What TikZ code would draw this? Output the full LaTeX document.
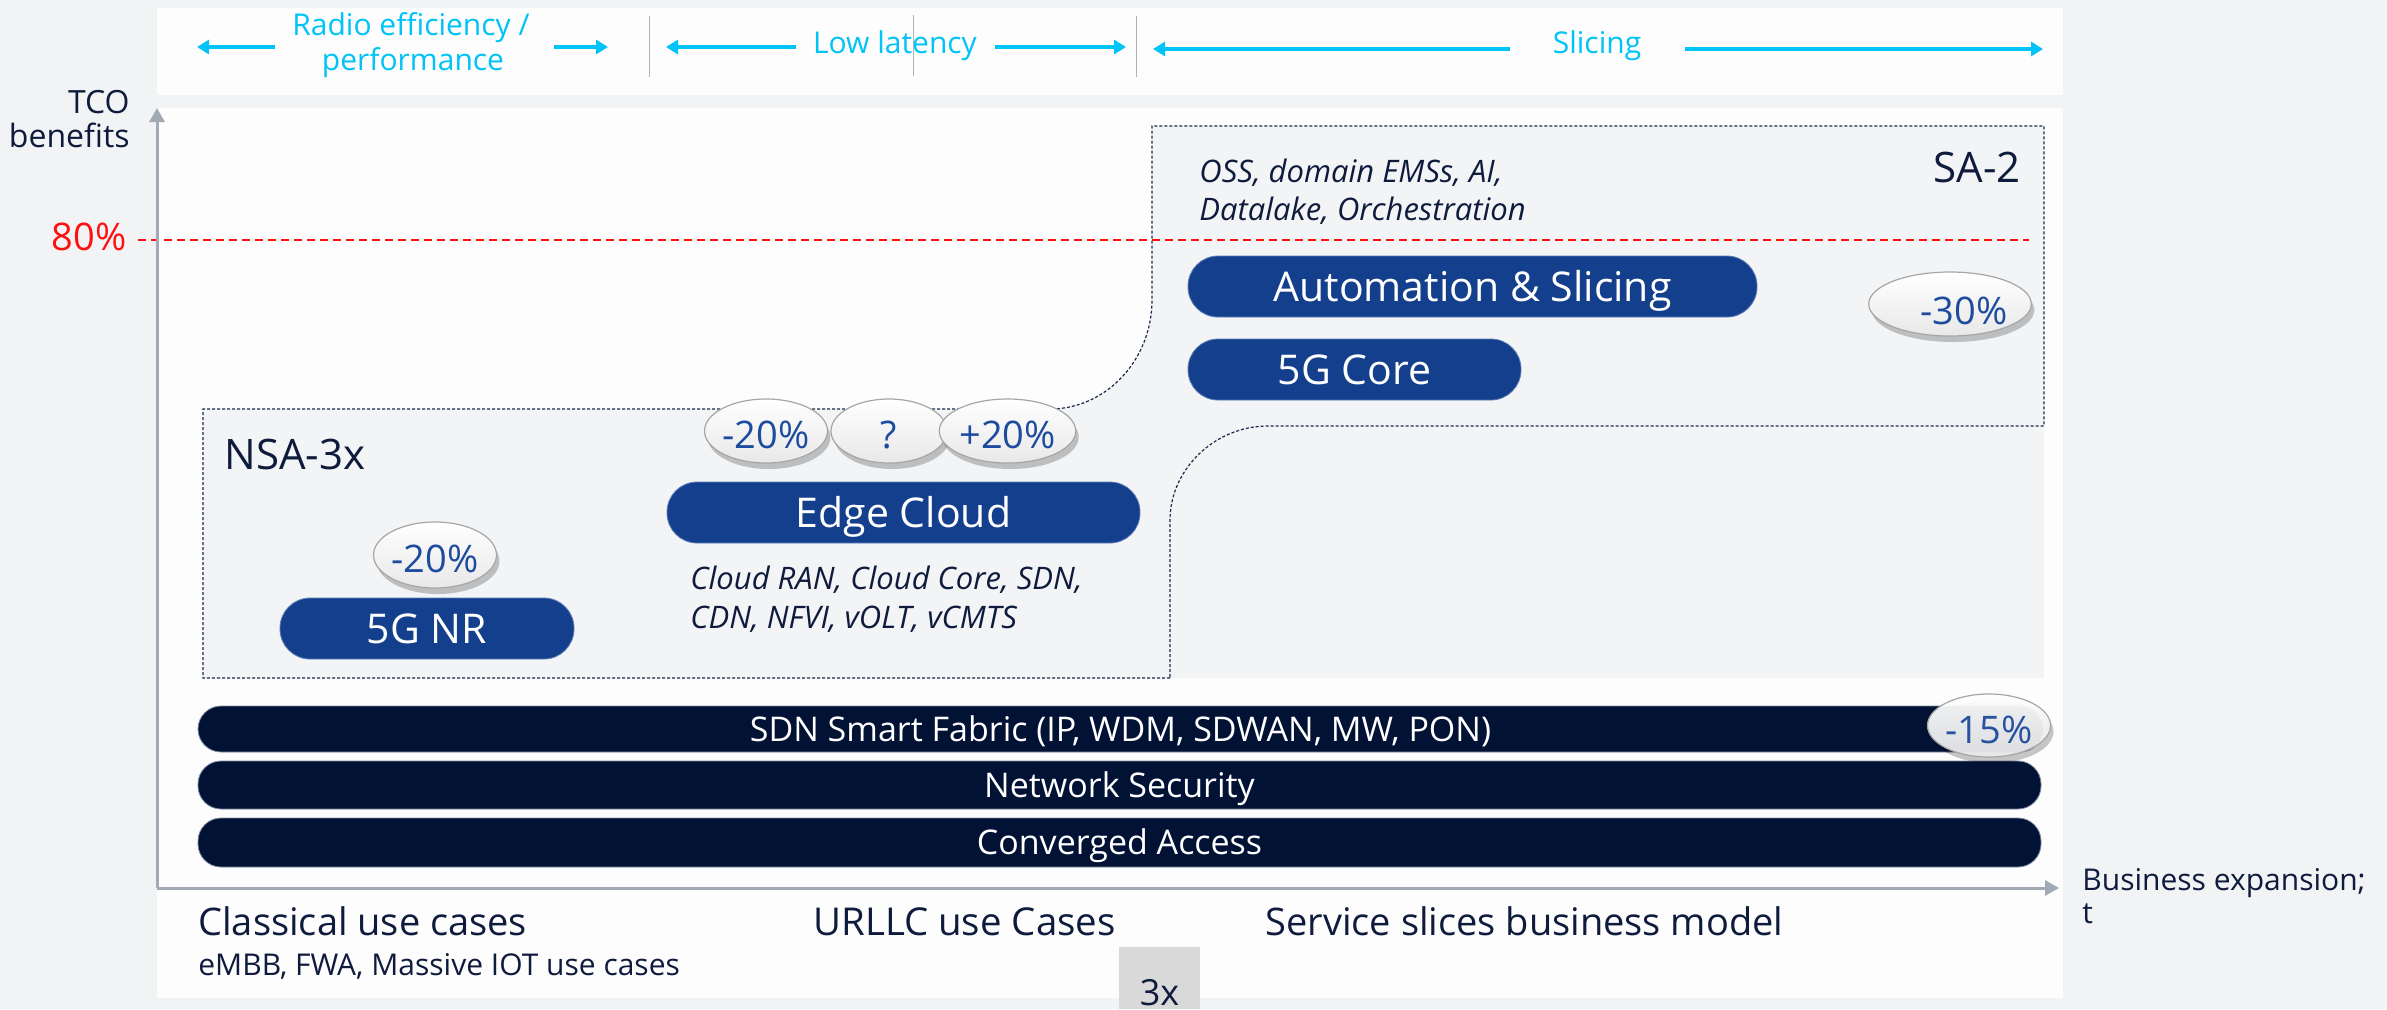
\documentclass[tikz,border=0pt]{standalone}
\usepackage{fontspec}
\setmainfont{Open Sans}
\usetikzlibrary{shapes.geometric,shadows,arrows.meta}

\definecolor{pagebg}{HTML}{F2F3F5}
\definecolor{panel}{HTML}{FDFDFD}
\definecolor{regionfill}{HTML}{F3F4F6}
\definecolor{regionline}{HTML}{1B2A4A}
\definecolor{accent}{HTML}{00C3F7}
\definecolor{sepgray}{HTML}{A9B1BC}
\definecolor{pillblue}{HTML}{133F8C}
\definecolor{pilledge}{HTML}{5F7FB8}
\definecolor{barnavy}{HTML}{011235}
\definecolor{baredge}{HTML}{7E8AA3}
\definecolor{inknavy}{HTML}{0F1B3D}
\definecolor{bubink}{HTML}{1D4B9E}
\definecolor{axisgray}{HTML}{A2AAB6}
\definecolor{alertred}{HTML}{FF1010}
\definecolor{tagbox}{HTML}{D9D9D9}

\begin{document}
\begin{tikzpicture}[x=0.5pt,y=-0.5pt,
  pill/.style={rounded corners=15pt, fill=pillblue, draw=pilledge, line width=0.4pt,
    text=white, inner sep=0pt, text height=14.6pt, text depth=0pt,
    font=\fontsize{20.5}{24}\selectfont},
  bar/.style={rounded corners=11.5pt, fill=barnavy, draw=baredge, line width=0.4pt,
    text=white, inner sep=0pt, text height=12.1pt, text depth=0pt,
    font=\fontsize{17}{20}\selectfont},
  bubble/.style={ellipse, draw=black!35, line width=0.6pt, top color=white,
    bottom color=black!9, inner sep=0pt, text=bubink,
    text height=17.5pt, text depth=0pt, font=\fontsize{19}{22}\selectfont,
    drop shadow={shadow xshift=1.5pt, shadow yshift=-3pt, fill=black, opacity=0.22}},
  bandtxt/.style={text=accent, inner sep=0pt, font=\fontsize{15}{17.5}\selectfont},
  bandarrow/.style={draw=accent, line width=1.75pt, -{Triangle[length=6pt,width=7pt]}},
  sepline/.style={draw=sepgray, line width=0.5pt},
  axisline/.style={draw=axisgray, line width=1.5pt, -{Triangle[length=7pt,width=7.5pt]}},
  regionline/.style={draw=regionline, line width=0.6pt, dash pattern=on 1.5pt off 1pt},
  ink/.style={text=inknavy, inner sep=0pt},
  note/.style={ink, font=\fontsize{15.5}{19}\selectfont\itshape},
]
\useasboundingbox (0,0) rectangle (2387,1009);

% backgrounds
\fill[pagebg] (0,0) rectangle (2387,1009);
\fill[panel] (157,8) rectangle (2063,95);
\fill[panel] (157,108) rectangle (2063,998);

% top band: capability ranges
\node[bandtxt, anchor=base] (radio1) at (411,35) {Radio efficiency /};
\node[bandtxt, anchor=base] (radio2) at (413,70) {performance};
\node[bandtxt, anchor=base] (lowlat) at (895,53) {Low latency};
\node[bandtxt, anchor=base] (slicing) at (1597,53) {Slicing};

\coordinate (radL) at (275,47);   \coordinate (radLtip) at (197,47);
\coordinate (radR) at (554,47);   \coordinate (radRtip) at (608,47);
\coordinate (latL) at (796,47);   \coordinate (latLtip) at (666,47);
\coordinate (latR) at (995,47);   \coordinate (latRtip) at (1126,47);
\coordinate (sliL) at (1510,49);  \coordinate (sliLtip) at (1153,49);
\coordinate (sliR) at (1685,49);  \coordinate (sliRtip) at (2043,49);
\draw[bandarrow] (radL) -- (radLtip);
\draw[bandarrow] (radR) -- (radRtip);
\draw[bandarrow] (latL) -- (latLtip);
\draw[bandarrow] (latR) -- (latRtip);
\draw[bandarrow] (sliL) -- (sliLtip);
\draw[bandarrow] (sliR) -- (sliRtip);

\draw[sepline] (649,16) -- (649,77);
\draw[sepline] (913,15) -- (913,76);
\draw[sepline] (1136,16) -- (1136,77);

% NSA-3x / SA-2 regions
\fill[regionfill] (1169,426) rectangle (2044,678);
\path[fill=regionfill, regionline]
  (1170,678) -- (203,678) -- (203,409) -- (1050,409)
  .. controls (1106,409) and (1152,360) .. (1152,300)
  -- (1152,126) -- (2044,126) -- (2044,426) -- (1268,426)
  .. controls (1214,426) and (1170,470) .. (1170,520) -- cycle;

% 80% threshold
\draw[alertred, line width=1pt, dash pattern=on 4pt off 2.5pt] (138,240) -- (2029,240);

% axes
\coordinate (origin) at (157,888);
\coordinate (ytip) at (157,108);
\coordinate (xtip) at (2059,888);
\draw[axisline] (origin) -- (ytip);
\draw[axisline] (origin) -- (xtip);

\node[ink, anchor=base east, font=\fontsize{16}{17}\selectfont] (tco) at (130,113) {TCO};
\node[ink, anchor=base east, font=\fontsize{16}{17}\selectfont] (benefits) at (130,147) {benefits};
\node[text=alertred, inner sep=0pt, anchor=base east, font=\fontsize{19}{22}\selectfont] (pct80) at (127,250) {80\%};

\node[ink, anchor=base west, font=\fontsize{15}{16.5}\selectfont] (bizexp) at (2082,890) {Business expansion;};
\node[ink, anchor=base west, font=\fontsize{15}{16.5}\selectfont] (bizt) at (2082,923) {t};

% region labels
\node[ink, anchor=base west, font=\fontsize{21}{24}\selectfont] (nsa) at (224,469) {NSA-3x};
\node[ink, anchor=base east, font=\fontsize{21}{24}\selectfont] (sa) at (2021,182) {SA-2};

\node[note, anchor=base west] (oss1) at (1199,182) {OSS, domain EMSs, AI,};
\node[note, anchor=base west] (oss2) at (1199,220) {Datalake, Orchestration};
\node[note, anchor=base west] (edge1) at (690,589) {Cloud RAN, Cloud Core, SDN,};
\node[note, anchor=base west] (edge2) at (690,628) {CDN, NFVI, vOLT, vCMTS};

% building blocks
\node[pill, minimum width=284.5pt, minimum height=30.5pt] (auto) at (1472.5,286.5) {Automation \& Slicing};
\node[pill, minimum width=166.5pt, minimum height=30.5pt] (core) at (1354.5,369.5) {5G Core};
\node[pill, minimum width=236.5pt, minimum height=30.5pt] (edge) at (903.5,512.5) {Edge Cloud};
\node[pill, minimum width=147pt, minimum height=30.5pt] (nr) at (427,628.5) {5G NR};

\node[bar, minimum width=922.5pt, minimum height=23pt] (sdn) at (1120.5,729) {SDN Smart Fabric (IP, WDM, SDWAN, MW, PON)};
\node[bar, minimum width=921.5pt, minimum height=24pt] (sec) at (1119.5,785) {Network Security};
\node[bar, minimum width=921.5pt, minimum height=24.5pt] (acc) at (1119.5,842.5) {Converged Access};

% savings bubbles
\node[bubble, minimum width=59.5pt, minimum height=32pt] (edgeminus) at (766,431) {-20\%};
\node[bubble, minimum width=58pt, minimum height=32pt] (edgeq) at (889,431) {?};
\node[bubble, minimum width=58.5pt, minimum height=32pt] (edgeplus) at (1007.5,431) {+20\%};
\node[bubble, minimum width=59pt, minimum height=33pt] (nrminus) at (435,555) {-20\%};
\node[bubble, minimum width=76pt, minimum height=32pt, text height=20.5pt] (saminus) at (1950,304) {\hspace*{14pt}-30\%};
\node[bubble, minimum width=58pt, minimum height=31.5pt, fill opacity=0.95] (sdnminus) at (1989,725.5) {-15\%};

% use-case captions
\node[ink, anchor=base west, font=\fontsize{19}{22}\selectfont] (classical) at (198,935) {Classical use cases};
\node[ink, anchor=base west, font=\fontsize{15}{17}\selectfont] (classsub) at (198,975) {eMBB, FWA, Massive IOT use cases};
\node[ink, anchor=base west, font=\fontsize{19.2}{22}\selectfont] (urllc) at (813,935) {URLLC use Cases};
\node[ink, anchor=base west, font=\fontsize{19}{22}\selectfont] (slices) at (1265,935) {Service slices business model};

% 3x tag
\fill[tagbox] (1119,947) rectangle (1200,1009);
\node[ink, anchor=base, font=\fontsize{18}{20}\selectfont] (threex) at (1159.5,1005) {3x};
\end{tikzpicture}
\end{document}
